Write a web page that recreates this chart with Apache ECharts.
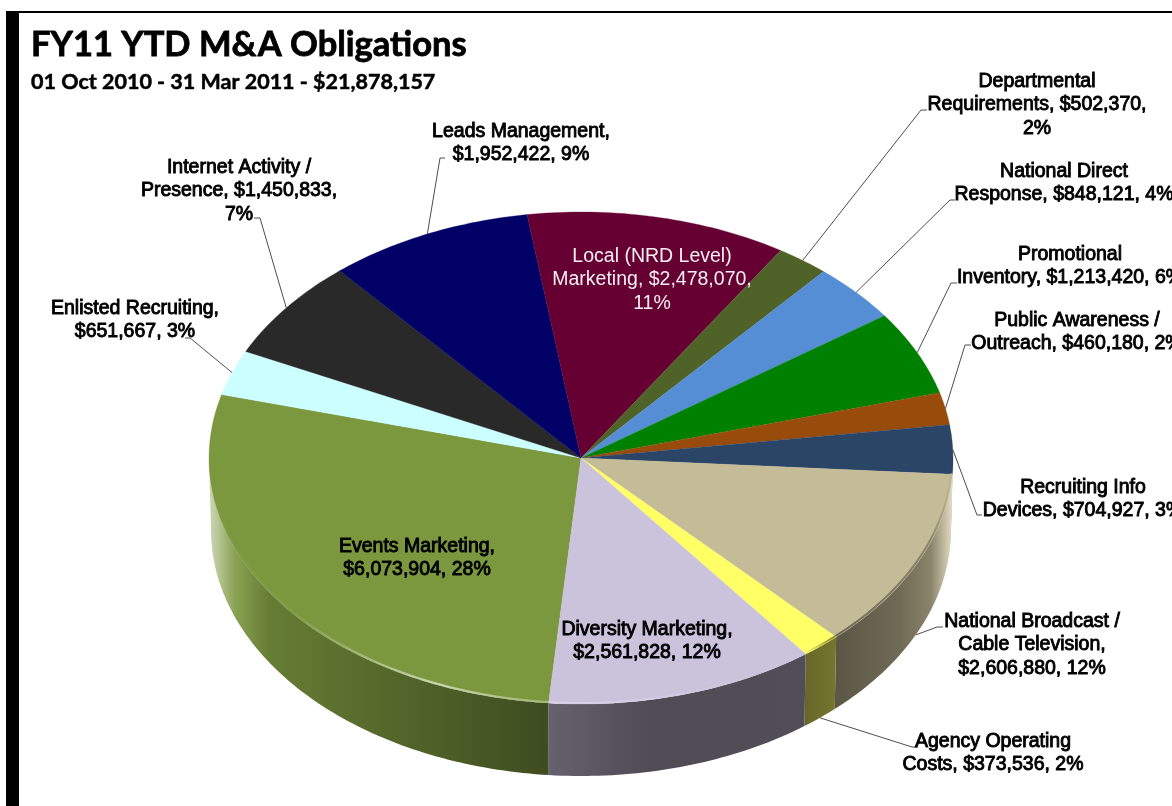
<!DOCTYPE html>
<html>
<head>
<meta charset="utf-8">
<style>html,body{margin:0;padding:0;background:#fff}#c{width:1172px;height:806px;filter:blur(.45px)}</style>
<script src="https://cdn.jsdelivr.net/npm/echarts@6/dist/echarts.min.js"></script>
</head>
<body>
<div id="c"></div>
<script>
// ---- data ----
var categories = ['Events Marketing','Enlisted Recruiting','Internet Activity / Presence','Leads Management','Local (NRD Level) Marketing','Departmental Requirements','National Direct Response','Promotional Inventory','Public Awareness / Outreach','Recruiting Info Devices','National Broadcast / Cable Television','Agency Operating Costs','Diversity Marketing'];
var values = [6073904,651667,1450833,1952422,2478070,502370,848121,1213420,460180,704927,2606880,373536,2561828];
var labels = [
  'Events Marketing,\n$6,073,904, 28%',
  'Enlisted Recruiting,\n$651,667, 3%',
  'Internet Activity /\nPresence, $1,450,833,\n7%',
  'Leads Management,\n$1,952,422, 9%',
  'Local (NRD Level)\nMarketing, $2,478,070,\n11%',
  'Departmental\nRequirements, $502,370,\n2%',
  'National Direct\nResponse, $848,121, 4%',
  'Promotional\nInventory, $1,213,420, 6%',
  'Public Awareness /\nOutreach, $460,180, 2%',
  'Recruiting Info\nDevices, $704,927, 3%',
  'National Broadcast /\nCable Television,\n$2,606,880, 12%',
  'Agency Operating\nCosts, $373,536, 2%',
  'Diversity Marketing,\n$2,561,828, 12%'
];
var colors = ['#7c983f','#ccffff','#292929','#000066','#660033','#4f6228','#558ed5','#008000','#974c0c','#2b4566','#c4bc96','#ffff66','#cbc2dc'];
var titleText = 'FY11 YTD M&A Obligations';
var subtitleText = '01 Oct 2010 - 31 Mar 2011 - $21,878,157';

// ---- layout (separate from the data) ----
var CX = 581, CY = 458, RX = 372, RY = 246, DEPTH = 72, RXB = 370, START = 95;
var labelCenter = [[417,558],[135,320],[239,191],[521,143],[652,280],[1037,105],[1064,183],[1070,266],[1077,332],[1083,499],[1032,645],[993,753],[647,641]];
var leader = [null,[[190,338],[185,338]],[[260,218],[254,218]],[[440,158],[445,158]],null,[[921,110],[927,110]],[[950,200],[955,200]],[[951,283],[957,283]],[[965,345],[971,345]],[[977,515],[982,515]],[[937,627],[943,627]],[[912,747],[918,747]],null];
var shadeStops = [[0,1.62],[.012,1.45],[.035,1.1],[.08,.82],[.2,.72],[.456,.5],[.593,.39],[.8,.4],[.84,.46],[.93,.57],[.97,.7],[.995,1.3],[1,1.5]];
var rimStops = [[0,1],[.12,1.05],[.3,1.6],[.456,1.3],[.6,1.15],[.8,1],[.84,.55],[.97,.7],[1,1]];

var total = values.reduce(function(a,b){return a+b;},0);

function rgb(h){return [parseInt(h.substr(1,2),16),parseInt(h.substr(3,2),16),parseInt(h.substr(5,2),16)];}
function shade(h,f){
  var c=rgb(h);
  var o=c.map(function(v){return f<=1?Math.round(v*f):Math.round(v+(255-v)*(f-1));});
  return 'rgb('+o.join(',')+')';
}
function grad(h,stops){
  return {type:'linear',global:true,x:CX-RX,y:0,x2:CX+RX,y2:0,
    colorStops:stops.map(function(s){return {offset:s[0],color:shade(h,s[1])};})};
}
function pt(t,rx,dy){var r=t*Math.PI/180;return [CX+rx*Math.cos(r),CY+RY*Math.sin(r)+dy];}
function arc(a,b,rx,dy){
  var out=[],n=Math.max(2,Math.ceil(Math.abs(b-a)));
  for(var i=0;i<=n;i++) out.push(pt(a+(b-a)*i/n,rx,dy));
  return out;
}
function renderItem(params,api){
  var i=params.dataIndex, kids=[], before=0;
  for(var k=0;k<i;k++) before+=values[k];
  var a=START+before/total*360, b=a+api.value(0)/total*360, mid=(a+b)/2;
  [[0,180],[360,540]].forEach(function(w){
    var s=Math.max(a,w[0]), e=Math.min(b,w[1]);
    if(e>s){
      var top=arc(s,e,RX,0), bot=arc(e,s,RXB,DEPTH);
      kids.push({type:'polygon',z2:1,shape:{points:top.concat(bot)},style:{fill:grad(colors[i],shadeStops),stroke:null}});
    }
  });
  kids.push({type:'polygon',z2:2,shape:{points:[[CX,CY]].concat(arc(a,b,RX,0))},style:{fill:colors[i],stroke:colors[i],lineWidth:.3}});
  [[0,180],[360,540]].forEach(function(w){
    var s=Math.max(a,w[0]), e=Math.min(b,w[1]);
    if(e>s) kids.push({type:'polyline',z2:3,shape:{points:arc(s,e,RX-1,-1)},style:{fill:null,stroke:grad(colors[i],rimStops),lineWidth:2}});
  });
  if(leader[i]){
    var m=((mid%360)+360)%360, front=m>3&&m<177;
    var anchor=front?pt(m,RXB,DEPTH):pt(m,RX,0);
    kids.push({type:'polyline',z2:6,shape:{points:[anchor].concat(leader[i])},style:{fill:null,stroke:'#4d4d4d',lineWidth:1}});
  }
  var white=i===4;
  kids.push({type:'text',z2:10,style:{
    text:labels[i],x:labelCenter[i][0],y:labelCenter[i][1],align:'center',verticalAlign:'middle',
    font:'19.5px "Liberation Sans"',lineHeight:23.5,
    fill:white?'#f4eef0':'#000',
    stroke:white?null:'#000',lineWidth:white?0:.9
  }});
  return {type:'group',children:kids};
}

var chart=echarts.init(document.getElementById('c'),null,{renderer:'canvas'});
chart.setOption({
  animation:false,
  backgroundColor:'#fff',
  title:[
    {text:titleText,left:31,top:27,padding:0,textStyle:{fontFamily:'Lato',fontWeight:'bold',fontSize:34.5,color:'#000',textBorderColor:'#000',textBorderWidth:.8}},
    {text:subtitleText,left:31,top:71,padding:0,textStyle:{fontFamily:'Lato',fontWeight:'bold',fontSize:21.5,color:'#000',textBorderColor:'#000',textBorderWidth:.5}}
  ],
  graphic:[
    {type:'rect',left:6,top:11,shape:{width:13,height:795},style:{fill:'#000'}},
    {type:'rect',left:6,top:11,shape:{width:1166,height:2},style:{fill:'#000'}}
  ],
  series:[{
    type:'custom',coordinateSystem:'none',renderItem:renderItem,silent:true,
    data:values.map(function(v,i){return {name:categories[i],value:[v]};})
  }]
});
</script>
</body>
</html>
